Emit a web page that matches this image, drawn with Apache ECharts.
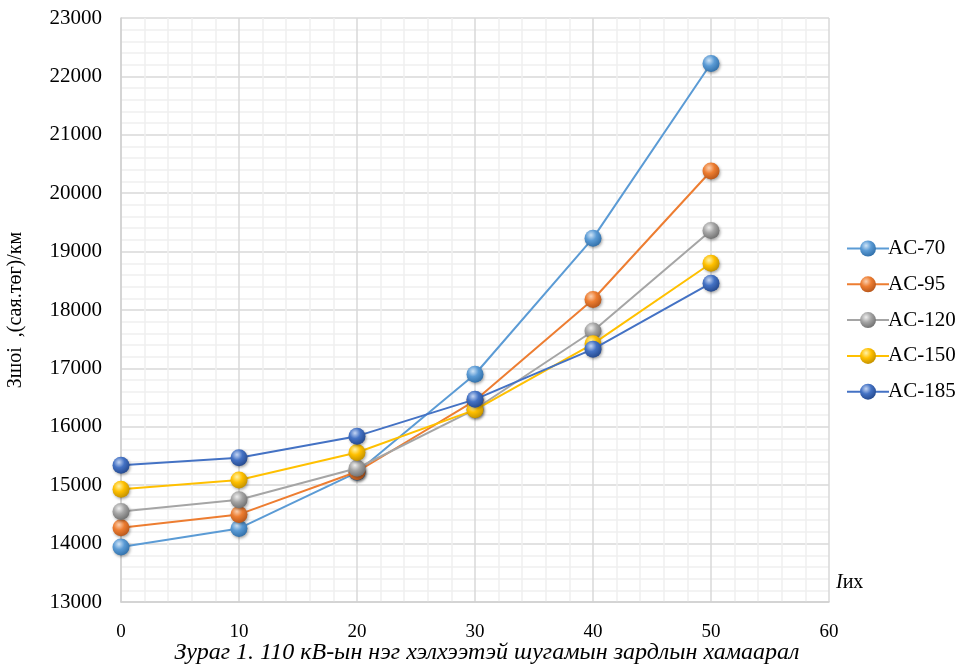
<!DOCTYPE html>
<html>
<head>
<meta charset="utf-8">
<style>
  html, body { margin: 0; padding: 0; background: #fff; }
  #chart { width: 958px; height: 669px; }
</style>
<script src="https://cdn.jsdelivr.net/npm/echarts@6/dist/echarts.min.js"></script>
</head>
<body>
<div id="chart"></div>
<script>
// Load current I (x) and cost per km for each conductor type
const currents = [0, 10, 20, 30, 40, 50];
const seriesNames = ['AC-70', 'AC-95', 'AC-120', 'AC-150', 'AC-185'];
const ac70  = [13940, 14260, 15220, 16900, 19230, 22220];
const ac95  = [14270, 14500, 15230, 16450, 18180, 20380];
const ac120 = [14550, 14750, 15290, 16300, 17640, 19360];
const ac150 = [14930, 15090, 15560, 16290, 17420, 18800];
const ac185 = [15340, 15470, 15840, 16470, 17330, 18460];
const yTicks = [13000, 14000, 15000, 16000, 17000, 18000, 19000, 20000, 21000, 22000, 23000];
const xTicks = [0, 10, 20, 30, 40, 50, 60];

const seriesValues = [ac70, ac95, ac120, ac150, ac185];
// base / highlight / shade for the glossy ball markers
const palette = [
  ['#5B9BD5', '#cfe4f7', '#2f6ea8'],
  ['#ED7D31', '#fbd0b0', '#b5551a'],
  ['#A5A5A5', '#eeeeee', '#6e6e6e'],
  ['#FFC000', '#fff2a8', '#c08f00'],
  ['#4472C4', '#c4d5f3', '#24488c']
];

const FONT = '"Liberation Serif", "Times New Roman", serif';

function ball(c) {
  return {
    type: 'radial', x: 0.38, y: 0.32, r: 0.72,
    colorStops: [
      { offset: 0, color: c[1] },
      { offset: 0.45, color: c[0] },
      { offset: 1, color: c[2] }
    ]
  };
}

const chart = echarts.init(document.getElementById('chart'), null, { renderer: 'canvas' });

const series = seriesNames.map((name, i) => ({
  name: name,
  type: 'line',
  data: currents.map((x, j) => [x, seriesValues[i][j]]),
  symbol: 'circle',
  symbolSize: 17,
  lineStyle: { color: palette[i][0], width: 2 },
  itemStyle: {
    color: ball(palette[i]),
    borderWidth: 0,
    shadowColor: 'rgba(0,0,0,0.35)',
    shadowBlur: 3,
    shadowOffsetX: 1,
    shadowOffsetY: 1.5
  },
  emphasis: { disabled: true },
  animation: false,
  z: 2 + i
}));

chart.setOption({
  backgroundColor: '#ffffff',
  animation: false,
  textStyle: { fontFamily: FONT },
  grid: { left: 121, right: 129, top: 18, bottom: 67, containLabel: false, outerBoundsMode: 'none' },
  title: {
    text: 'Зураг 1. 110 кВ-ын нэг хэлхээтэй шугамын зардлын хамаарал',
    left: 482,
    textAlign: 'center',
    bottom: -1,
    textStyle: { fontFamily: FONT, fontStyle: 'italic', fontWeight: 'normal', fontSize: 24, color: '#000' }
  },
  legend: {
    orient: 'vertical',
    left: 841,
    top: 233,
    itemWidth: 42,
    itemHeight: 20,
    itemGap: 14.8,
    data: seriesNames,
    textStyle: { fontFamily: FONT, fontSize: 21, color: '#000', padding: [0, 0, 0, -6] }
  },
  xAxis: {
    type: 'value',
    min: xTicks[0],
    max: xTicks[xTicks.length - 1],
    interval: 10,
    axisLine: { show: true, lineStyle: { color: '#d0d0d0', width: 1.5 } },
    axisTick: { show: false },
    axisLabel: { fontFamily: FONT, fontSize: 19, color: '#000', margin: 21, formatter: v => String(v) },
    splitLine: { show: true, lineStyle: { color: '#d9d9d9', width: 1.5 } },
    minorTick: { show: false, splitNumber: 5 },
    minorSplitLine: { show: true, lineStyle: { color: '#f0f0f0', width: 1.5 } }
  },
  yAxis: {
    type: 'value',
    min: yTicks[0],
    max: yTicks[yTicks.length - 1],
    interval: 1000,
    name: 'Зшоі  ,(сая.төг)/км',
    nameLocation: 'middle',
    nameRotate: 90,
    nameGap: 95,
    nameTextStyle: { fontFamily: FONT, fontSize: 20, color: '#000' },
    axisLine: { show: true, lineStyle: { color: '#d0d0d0', width: 1.5 } },
    axisTick: { show: false },
    axisLabel: { fontFamily: FONT, fontSize: 21, color: '#000', margin: 19, formatter: v => String(v) },
    splitLine: { show: true, lineStyle: { color: '#d9d9d9', width: 1.5 } },
    minorTick: { show: false, splitNumber: 5 },
    minorSplitLine: { show: true, lineStyle: { color: '#f0f0f0', width: 1.5 } }
  },
  graphic: [
    {
      type: 'text',
      left: 836,
      top: 573,
      style: {
        text: '{i|I}{n|их}',
        rich: {
          i: { fontFamily: FONT, fontStyle: 'italic', fontSize: 20, fill: '#000' },
          n: { fontFamily: FONT, fontSize: 20, fill: '#000' }
        }
      }
    }
  ],
  series: series
});
</script>
</body>
</html>
